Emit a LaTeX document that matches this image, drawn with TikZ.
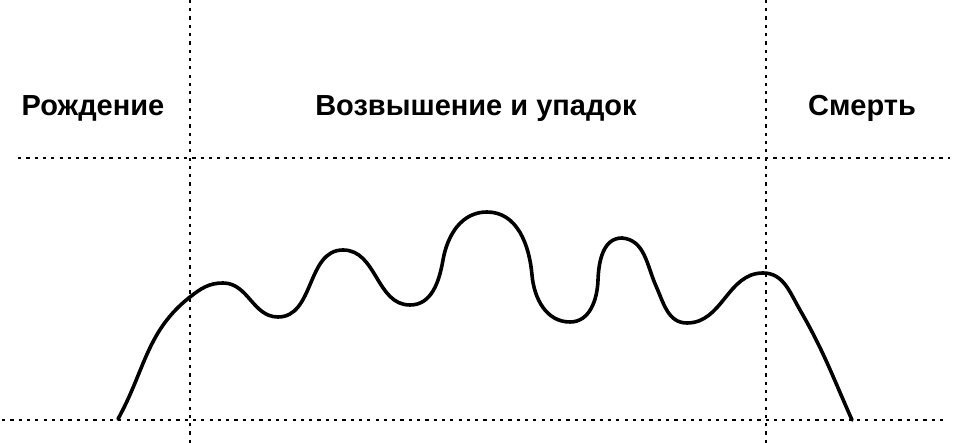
\documentclass[tikz,border=0pt]{standalone}
\usepackage{fontspec}
\setmainfont{Liberation Sans}
\begin{document}
\begin{tikzpicture}[x=1pt,y=1pt,
    grid/.style={line width=2.8pt,dash pattern=on 3.2pt off 5.1pt},
    phase/.style={anchor=base,font=\fontsize{29}{33}\selectfont\bfseries}]
  \useasboundingbox (0,0) rectangle (964,443);
  % vertical borders
  \draw[grid] (190,0) -- (190,443);
  \draw[grid] (766,0) -- (766,443);
  % horizontal borders
  \draw[grid] (18,285) -- (950,285);
  \draw[grid] (2,23) -- (948,23);
  % phases
  \node[phase] (birth) at (93,327) {Рождение};
  \node[phase] (rise) at (476,327) {Возвышение и упадок};
  \node[phase] (death) at (862,327) {Смерть};
  % life curve
  \draw[line width=3.6pt,line cap=round]
    (118,24) to[out=61,in=218] (190,146) to[out=38,in=180] (223,160)
    to[out=0,in=180] (278,126) to[out=0,in=180] (343,193)
    to[out=0,in=180] (410,138) to[out=0,in=260] (443,183)
    to[out=80,in=180] (487,231) to[out=0,in=95] (532,168)
    to[out=-85,in=180] (570,121) to[out=0,in=268] (598,163)
    to[out=88,in=180] (622,205) to[out=-5,in=114] (656,157)
    to[out=-66,in=180] (687,120) to[out=0,in=180] (763,170)
    to[out=0,in=120] (800,133) to[out=-60,in=114] (852,23);
\end{tikzpicture}
\end{document}
